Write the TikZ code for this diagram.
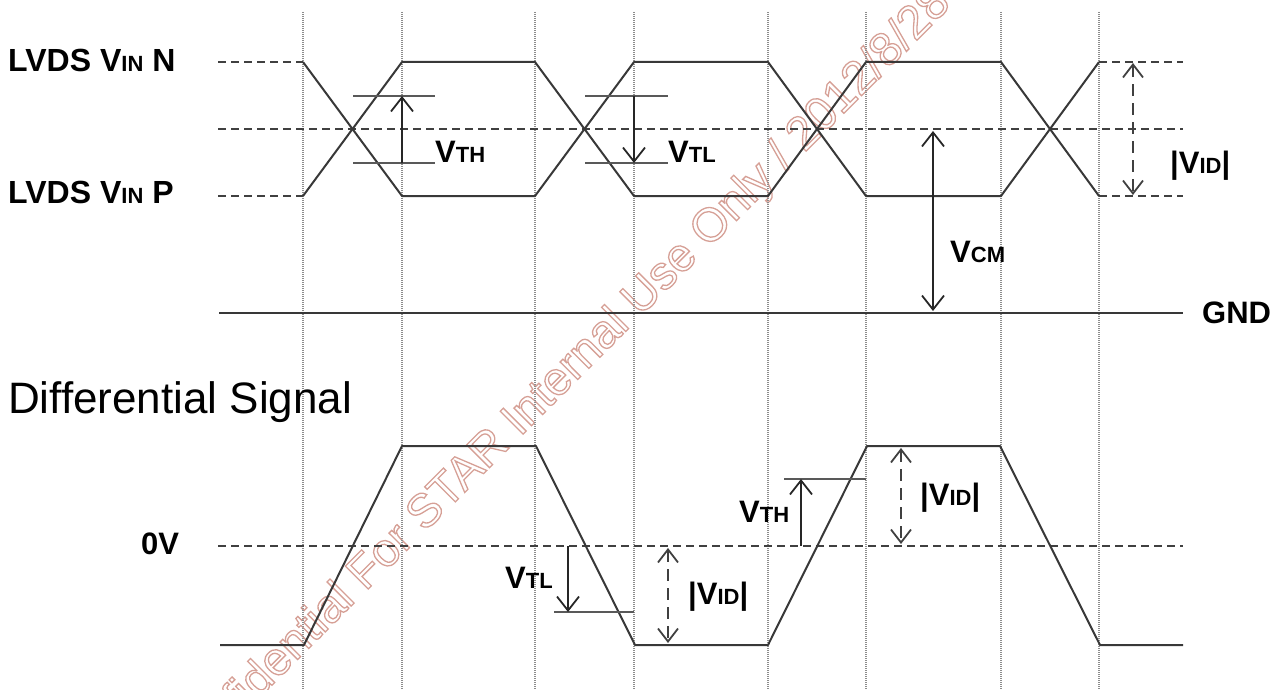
\documentclass[tikz,border=0pt]{standalone}
\usepackage{fontspec}
\setmainfont{Liberation Sans}
\usetikzlibrary{arrows.meta}
\newcommand{\lowcaps}[1]{{\fontsize{22}{22}\selectfont #1}}
\begin{document}
\begin{tikzpicture}[x=1pt,y=-1pt,
  gridline/.style={draw=black!45, line width=1.1pt, dash pattern=on 1pt off 1pt},
  sig/.style={draw=black!78, line width=2pt, line join=round},
  refline/.style={draw=black!75, line width=2pt, dash pattern=on 8pt off 5pt},
  thr/.style={draw=black!65, line width=1.8pt},
  arr/.style={draw=black!85, line width=1.8pt, -{Straight Barb[length=14pt,width=22pt]}},
  darr/.style={draw=black!75, line width=1.8pt, dash pattern=on 12pt off 7pt,
     {Straight Barb[length=13pt,width=20pt]}-{Straight Barb[length=13pt,width=20pt]}},
  biarr/.style={draw=black!85, line width=1.8pt,
     {Straight Barb[length=14pt,width=22pt]}-{Straight Barb[length=14pt,width=22pt]}},
  lbl/.style={font=\fontsize{31}{31}\selectfont\bfseries, inner sep=0pt, anchor=base west},
  wmark/.style={font=\fontsize{47}{47}\selectfont, inner sep=0pt, rotate=45,
     text={rgb,255:red,214;green,160;blue,150}},
]
\useasboundingbox (0,0) rectangle (1285,690);

% watermark
\node[wmark] (wm) at (558,382) {\special{pdf:literal direct 1 Tr 1.3 w}Confidential For STAR Internal Use Only / 2012/8/28\special{pdf:literal direct 0 Tr}};

% vertical grid
\foreach \x in {303,402,535,634,768,866,1001,1099}
  \draw[gridline] (\x,12) -- (\x,690);

% ---------- top: LVDS inputs ----------
\draw[refline] (218,62) -- (303,62);
\draw[refline] (218,196) -- (303,196);
\draw[refline] (218,129) -- (1183,129);
\draw[refline] (1099,62) -- (1183,62);
\draw[refline] (1099,196) -- (1183,196);

\draw[sig] (303,62) -- (402,196) -- (535,196) -- (634,62) -- (768,62) -- (866,196) -- (1001,196) -- (1099,62);
\draw[sig] (303,196) -- (402,62) -- (535,62) -- (634,196) -- (768,196) -- (866,62) -- (1001,62) -- (1099,196);

% VTH (top)
\coordinate (th1) at (402,96);
\coordinate (th0) at (402,163);
\draw[thr] (353,96) -- (435,96);
\draw[thr] (353,163) -- (435,163);
\draw[arr] (th0) -- (th1);
\node[lbl] (vth1) at (435,163) {V\lowcaps{TH}};

% VTL (top)
\coordinate (tl1) at (634,96);
\coordinate (tl0) at (634,163);
\draw[thr] (585,96) -- (668,96);
\draw[thr] (585,163) -- (668,163);
\draw[arr] (tl1) -- (tl0);
\node[lbl] (vtl1) at (668,163) {V\lowcaps{TL}};

% VCM
\coordinate (cmtop) at (933,131);
\coordinate (cmbot) at (933,311);
\draw[biarr] (cmtop) -- (cmbot);
\node[lbl] (vcm) at (950,262) {V\lowcaps{CM}};

% GND
\coordinate (gndl) at (219,313);
\coordinate (gndr) at (1183,313);
\draw[sig] (gndl) -- (gndr);
\node[lbl] (gnd) at (1202,323) {GND};

% |VID| top
\coordinate (vidt) at (1133,63);
\coordinate (vidb) at (1133,195);
\draw[darr] (vidt) -- (vidb);
\node[lbl] (vid1) at (1170,173) {|V\lowcaps{ID}|};

% left labels
\node[lbl, font=\fontsize{32}{32}\selectfont\bfseries] (lvdsn) at (8,72) {LVDS V\lowcaps{IN} N};
\node[lbl, font=\fontsize{32}{32}\selectfont\bfseries] (lvdsp) at (8,203) {LVDS V\lowcaps{IN} P};

% ---------- bottom: differential ----------
\node[font=\fontsize{44}{44}\selectfont, inner sep=0pt, anchor=base west] (title) at (8,413) {Differential Signal};
\node[lbl] (zv) at (141,554) {0V};

\draw[refline] (218,546) -- (1183,546);
\draw[sig] (220,645) -- (304,645) -- (402,446) -- (536,446) -- (635,645) -- (768,645) -- (867,446) -- (1000,446) -- (1100,645) -- (1183,645);

% VTL (bottom)
\coordinate (btl1) at (568,546);
\coordinate (btl0) at (568,612);
\draw[thr] (554,612) -- (634,612);
\draw[arr] (btl1) -- (btl0);
\node[lbl] (vtl2) at (505,588) {V\lowcaps{TL}};

% |VID| bottom left
\coordinate (bv1t) at (668,548);
\coordinate (bv1b) at (668,643);
\draw[darr] (bv1t) -- (bv1b);
\node[lbl] (vid2) at (688,604) {|V\lowcaps{ID}|};

% VTH (bottom)
\coordinate (bth0) at (801,546);
\coordinate (bth1) at (801,479);
\draw[thr] (784,479) -- (866,479);
\draw[arr] (bth0) -- (bth1);
\node[lbl] (vth2) at (739,522) {V\lowcaps{TH}};

% |VID| bottom right
\coordinate (bv2t) at (901,448);
\coordinate (bv2b) at (901,544);
\draw[darr] (bv2t) -- (bv2b);
\node[lbl] (vid3) at (920,505) {|V\lowcaps{ID}|};
\end{tikzpicture}
\end{document}
